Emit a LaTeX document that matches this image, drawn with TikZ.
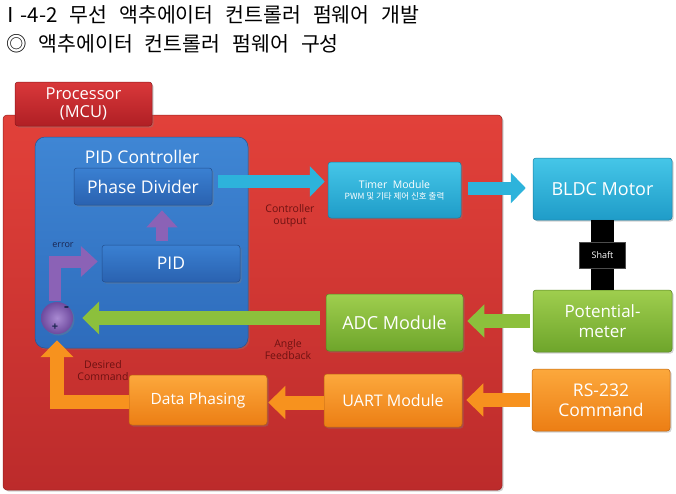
\documentclass[tikz,border=0pt]{standalone}
\usepackage{fontspec}
\setmainfont{Open Sans}
\newfontfamily\kr{Noto Sans CJK KR}
\newcommand\widewordspace{\spaceskip=12pt\relax}
\usetikzlibrary{arrows.meta,shadows,calc}
\definecolor{redT}{HTML}{E2413A}
\definecolor{redB}{HTML}{BC2B2B}
\definecolor{tabT}{HTML}{D9383A}
\definecolor{tabB}{HTML}{B01F24}
\definecolor{bigBlueT}{HTML}{3F86D4}
\definecolor{bigBlueB}{HTML}{2E6CBC}
\definecolor{blueT}{HTML}{3A80D2}
\definecolor{blueB}{HTML}{2A62B0}
\definecolor{cyanT}{HTML}{45C6E8}
\definecolor{cyanB}{HTML}{1F9CC8}
\definecolor{cyanA}{HTML}{2DB3DB}
\definecolor{greenT}{HTML}{9FCE4E}
\definecolor{greenB}{HTML}{6EA52B}
\definecolor{greenA}{HTML}{8CC03C}
\definecolor{orangeT}{HTML}{FCA83C}
\definecolor{orangeB}{HTML}{EC7E14}
\definecolor{orangeA}{HTML}{F7921E}
\definecolor{purpleA}{HTML}{8B62B6}
\definecolor{purpleL}{HTML}{A98AD2}
\definecolor{purpleD}{HTML}{6E4A9E}
\definecolor{labelRed}{HTML}{6E1212}
\definecolor{labelNavy}{HTML}{1B2550}
\begin{document}
\begin{tikzpicture}[x=1pt,y=-1pt,
  shad/.style={drop shadow={shadow xshift=1.5pt,shadow yshift=-1.5pt,opacity=.35}},
  box/.style={rounded corners=3pt,text=white,align=center,inner sep=0pt,shad},
  cyanbox/.style={box,top color=cyanT,bottom color=cyanB,draw=cyanB!80!black,line width=.5pt},
  greenbox/.style={box,top color=greenT,bottom color=greenB,draw=greenB!80!black,line width=.5pt},
  orangebox/.style={box,top color=orangeT,bottom color=orangeB,draw=orangeB!80!black,line width=.5pt},
  bluebox/.style={box,top color=blueT,bottom color=blueB,draw=blueB!80!black,line width=.5pt},
  cyanarrow/.style={draw=cyanA,line width=13pt,-{Triangle[length=15pt,width=30pt]}},
  greenarrow/.style={draw=greenA,line width=14pt,-{Triangle[length=17pt,width=32pt]}},
  orangearrow/.style={draw=orangeA,line width=14pt,line join=miter,-{Triangle[length=17pt,width=32pt]}},
  purplearrow/.style={draw=purpleA,line width=12pt,line join=miter,-{Triangle[length=17pt,width=30pt]}},
  note/.style={text=labelRed,align=center,font=\fontsize{10.5}{12}\selectfont,inner sep=0pt},
  titletext/.style={anchor=west,inner sep=0pt,font=\kr\fontsize{20.5}{23}\selectfont\widewordspace}
]
\useasboundingbox (0,0) rectangle (676,493);

% titles
\node[titletext] (title1) at (0,15) {Ⅰ-4-2 무선 액추에이터 컨트롤러 펌웨어 개발};
\node[titletext] (title2) at (6,44) {◎ 액추에이터 컨트롤러 펌웨어 구성};

% processor container
\node[rounded corners=4pt,top color=redT,bottom color=redB,draw=redB!80!black,line width=.5pt,
      minimum width=499pt,minimum height=375pt,inner sep=0pt,shad] (mcu) at (252.5,302.5) {};
\node[box,top color=tabT,bottom color=tabB,draw=tabB!80!black,line width=.5pt,
      minimum width=137pt,minimum height=44pt,font=\fontsize{16.5}{18}\selectfont] (tab) at (83.5,104) {Processor\\(MCU)};

% PID controller container
\node[rounded corners=10pt,top color=bigBlueT,bottom color=bigBlueB,draw=bigBlueB!80!black,line width=.5pt,
      minimum width=213pt,minimum height=211pt,inner sep=0pt,shad] (pidc) at (141.5,242.5) {};
\node[text=white,inner sep=0pt,font=\fontsize{17.5}{19}\selectfont] (pidctitle) at (142,157) {PID Controller};

\node[bluebox,minimum width=138pt,minimum height=37pt,font=\fontsize{17.5}{19}\selectfont] (pd) at (143,186.5) {Phase Divider};
\node[bluebox,minimum width=138pt,minimum height=37pt,font=\fontsize{17.5}{19}\selectfont] (pid) at (171,263.5) {PID};

% sum junction
\node[circle,minimum size=32pt,inner sep=0pt,inner color=purpleL,outer color=purpleD,shad] (sum) at (57,318) {};
\node[inner sep=0pt,font=\fontsize{15}{15}\selectfont\bfseries,text=labelNavy] (minus) at (66.5,309) {-};
\node[inner sep=0pt,font=\fontsize{11}{11}\selectfont\bfseries,text=labelNavy] (plus) at (55,327) {+};

% peripheral boxes
\node[cyanbox,minimum width=133pt,minimum height=56pt] (timer) at (394.5,190)
  {{\fontsize{10.5}{12}\selectfont Timer\ \ Module}\\[-1pt]{\kr\fontsize{8.5}{9}\selectfont PWM 및 기타 제어 신호 출력}};
\node[cyanbox,minimum width=139pt,minimum height=62pt,font=\fontsize{18}{20}\selectfont] (bldc) at (602.5,189) {BLDC Motor};
\node[greenbox,minimum width=139pt,minimum height=62pt,font=\fontsize{17}{20}\selectfont] (pot) at (602.5,321) {Potential-\\meter};
\node[greenbox,minimum width=137pt,minimum height=57pt,font=\fontsize{18}{20}\selectfont] (adc) at (394.5,322.5) {ADC Module};
\node[orangebox,minimum width=138pt,minimum height=53pt,font=\fontsize{16}{18}\selectfont] (uart) at (393,400.5) {UART Module};
\node[orangebox,minimum width=138pt,minimum height=62pt,font=\fontsize{17.5}{20}\selectfont] (rs) at (601,400) {RS-232\\Command};

% labels
\node[note] (ctrlout) at (290,216) {Controller\\output};
\node[note] (anglefb) at (288,350) {Angle\\Feedback};
\node[note] (desired) at (103,371) {Desired\\Command};
\node[inner sep=0pt,text=labelNavy,font=\fontsize{9}{10}\selectfont] (err) at (63,245) {error};

% data phasing (drawn over the label)
\node[orangebox,minimum width=138pt,minimum height=50pt,font=\fontsize{15.5}{17}\selectfont] (dp) at (198,400) {Data Phasing};

% shaft
\draw[line width=23pt,black] (bldc.south) -- (pot.north);
\node[fill=black,draw=black!70,text=white,minimum width=46pt,minimum height=26pt,inner sep=0pt,
      font=\fontsize{9}{10}\selectfont] (shaft) at ($(bldc.south)!.5!(pot.north)$) {Shaft};

% arrows
\draw[cyanarrow] ([xshift=6pt,yshift=5pt]pd.east) -- ([xshift=-3pt,yshift=5pt]pd.east -| timer.west);
\draw[cyanarrow] ([xshift=7pt,yshift=2pt]timer.east) -- ([xshift=-7pt,yshift=2pt]timer.east -| bldc.west);
\draw[greenarrow] ([xshift=-3pt]pot.west) -- ([xshift=4pt]pot.west -| adc.east);
\draw[greenarrow] ([xshift=-6pt]sum.east -| adc.west) -- ([xshift=9pt]sum.east);
\draw[orangearrow] ([xshift=-2pt]rs.west) -- ([xshift=4pt]rs.west -| uart.east);
\draw[orangearrow] ([yshift=-2pt]uart.west) -- ([xshift=1pt,yshift=-2pt]uart.west -| dp.east);
\draw[purplearrow] ([xshift=-9pt,yshift=4pt]pid.north) -- ([xshift=19pt,yshift=-5pt]pd.south);
\draw[purplearrow] ([xshift=-2pt,yshift=1pt]sum.north) |- ([xshift=-4pt,yshift=2pt]pid.west);
\draw[orangearrow] ([yshift=-2pt]dp.west) -| ([xshift=0pt,yshift=-6pt]sum.south);
\end{tikzpicture}
\end{document}
